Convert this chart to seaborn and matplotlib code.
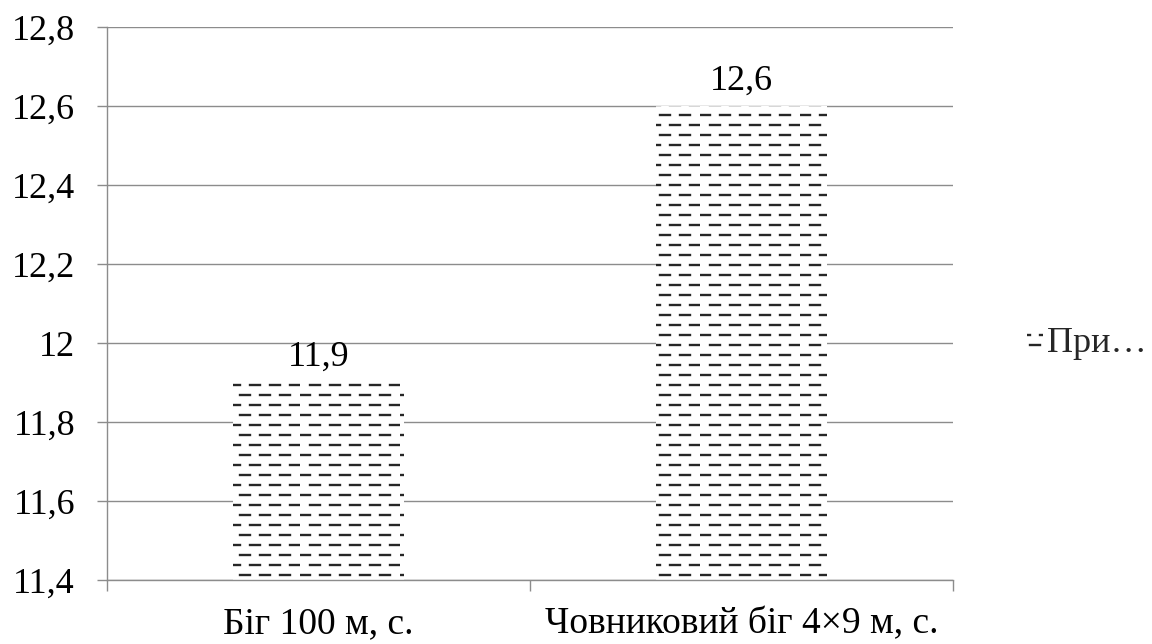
import numpy as np
import pandas as pd
import matplotlib
matplotlib.use("Agg")
import matplotlib.pyplot as plt
import matplotlib.hatch as mhatch
from matplotlib.path import Path
from matplotlib.patches import Patch
import seaborn as sns

# ---- data ----
categories = ["Біг 100 м, с.", "Човниковий біг 4×9 м, с."]
values = [11.9, 12.6]
value_labels = ["11,9", "12,6"]
series_name = "При…"
y_ticks = [11.4, 11.6, 11.8, 12.0, 12.2, 12.4, 12.6, 12.8]
y_tick_labels = ["11,4", "11,6", "11,8", "12", "12,2", "12,4", "12,6", "12,8"]

# ---- dashed horizontal hatch (Excel-like "dashed horizontal" pattern) ----
ROWS_PER_UNIT = 10
DASHES_PER_ROW = 5


class DashedHorizontalHatch(mhatch.HatchPatternBase):
    def __init__(self, hatch, density):
        self.num_rows = int(hatch.count('-') * ROWS_PER_UNIT)
        self.num_dashes = DASHES_PER_ROW
        self.num_vertices = self.num_rows * self.num_dashes * 2

    def set_vertices_and_codes(self, vertices, codes):
        k = 0
        for i in range(self.num_rows):
            y = (i + 0.5) / self.num_rows
            off = 0.5 * (i % 2)
            for j in range(self.num_dashes):
                x0 = (j + off) / self.num_dashes
                x1 = x0 + 0.5 / self.num_dashes
                vertices[k] = (x0, y)
                vertices[k + 1] = (x1, y)
                codes[k] = Path.MOVETO
                codes[k + 1] = Path.LINETO
                k += 2


mhatch._hatch_types[:] = [DashedHorizontalHatch if t is mhatch.HorizontalHatch else t
                          for t in mhatch._hatch_types]

sns.set_theme(style="white")
plt.rcParams['font.family'] = ['Liberation Serif', 'DejaVu Serif']
plt.rcParams['hatch.linewidth'] = 1.7

df = pd.DataFrame({"category": categories, "value": values})

fig = plt.figure(figsize=(11.52, 6.44), dpi=100)
ax = fig.add_axes([107 / 1152, 1 - 580 / 644, (953 - 107) / 1152, (580 - 27) / 644])

HATCH_COLOR = "#262626"
GRID_COLOR = "#8c8c8c"

sns.barplot(data=df, x="category", y="value", ax=ax, color="white", saturation=1,
            width=0.405, edgecolor=HATCH_COLOR, linewidth=0, hatch="-", zorder=3)

ax.set_ylim(y_ticks[0], y_ticks[-1])
ax.set_xlim(-0.5, len(categories) - 0.5)
ax.set_yticks(y_ticks)
ax.set_yticklabels(y_tick_labels)
ax.yaxis.grid(True, color=GRID_COLOR, linewidth=1.0, zorder=0)
ax.xaxis.grid(False)
ax.set_axisbelow(True)

for s in ["top", "right"]:
    ax.spines[s].set_visible(False)
for s in ["left", "bottom"]:
    ax.spines[s].set_color(GRID_COLOR)
    ax.spines[s].set_linewidth(1.0)
    ax.spines[s].set_zorder(4)

ax.set_xlabel("")
ax.set_ylabel("")
ax.tick_params(axis="y", which="major", direction="out", length=7, width=1.0,
               color=GRID_COLOR, labelsize=26, pad=16, left=True)
ax.tick_params(axis="x", which="major", length=0, labelsize=27, pad=19)
ax.set_xticks(np.arange(-0.5, len(categories) + 0.5, 1.0), minor=True)
ax.tick_params(axis="x", which="minor", direction="out", length=8, width=1.0,
               color=GRID_COLOR, bottom=True)
for lab in ax.get_yticklabels() + ax.get_xticklabels():
    lab.set_color("black")

ax.bar_label(ax.containers[0], labels=value_labels, padding=6, fontsize=26, color="black")

handle = Patch(facecolor="white", edgecolor=HATCH_COLOR, linewidth=0, hatch="-")
fig.legend(handles=[handle], labels=[series_name], loc="center left",
           bbox_to_anchor=(1027 / 1152, 1 - 343 / 644), frameon=False,
           fontsize=26, handlelength=0.45, handleheight=0.45, handletextpad=0.1,
           borderpad=0, borderaxespad=0)

fig.savefig("out.png", dpi=100)
